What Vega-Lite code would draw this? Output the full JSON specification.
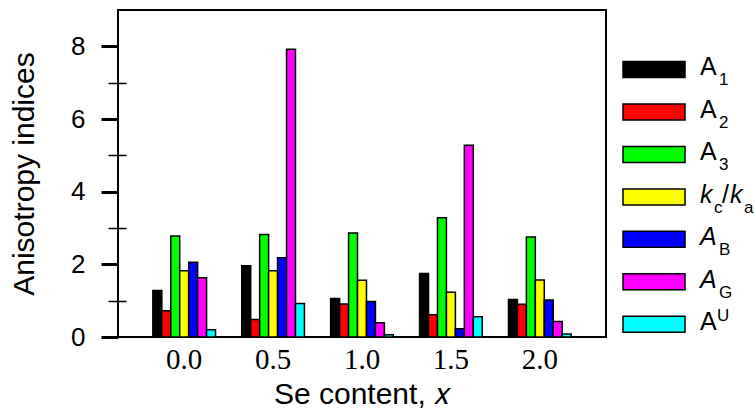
{
  "$schema": "https://vega.github.io/schema/vega-lite/v6.json",
  "padding": {"left": 8, "top": 9, "right": 0, "bottom": 0},
  "background": "white",
  "datasets": {
    "bars": [
      {"x": "0.0", "series": "A1", "value": 1.28},
      {"x": "0.0", "series": "A2", "value": 0.72},
      {"x": "0.0", "series": "A3", "value": 2.78},
      {"x": "0.0", "series": "kc/ka", "value": 1.82},
      {"x": "0.0", "series": "AB", "value": 2.06},
      {"x": "0.0", "series": "AG", "value": 1.63},
      {"x": "0.0", "series": "AU", "value": 0.2},
      {"x": "0.5", "series": "A1", "value": 1.96},
      {"x": "0.5", "series": "A2", "value": 0.48},
      {"x": "0.5", "series": "A3", "value": 2.82},
      {"x": "0.5", "series": "kc/ka", "value": 1.82},
      {"x": "0.5", "series": "AB", "value": 2.18},
      {"x": "0.5", "series": "AG", "value": 7.92},
      {"x": "0.5", "series": "AU", "value": 0.92},
      {"x": "1.0", "series": "A1", "value": 1.06},
      {"x": "1.0", "series": "A2", "value": 0.91},
      {"x": "1.0", "series": "A3", "value": 2.86},
      {"x": "1.0", "series": "kc/ka", "value": 1.56},
      {"x": "1.0", "series": "AB", "value": 0.98},
      {"x": "1.0", "series": "AG", "value": 0.39},
      {"x": "1.0", "series": "AU", "value": 0.06},
      {"x": "1.5", "series": "A1", "value": 1.75},
      {"x": "1.5", "series": "A2", "value": 0.61},
      {"x": "1.5", "series": "A3", "value": 3.28},
      {"x": "1.5", "series": "kc/ka", "value": 1.23},
      {"x": "1.5", "series": "AB", "value": 0.23},
      {"x": "1.5", "series": "AG", "value": 5.28},
      {"x": "1.5", "series": "AU", "value": 0.56},
      {"x": "2.0", "series": "A1", "value": 1.03},
      {"x": "2.0", "series": "A2", "value": 0.9},
      {"x": "2.0", "series": "A3", "value": 2.75},
      {"x": "2.0", "series": "kc/ka", "value": 1.57},
      {"x": "2.0", "series": "AB", "value": 1.02},
      {"x": "2.0", "series": "AG", "value": 0.43},
      {"x": "2.0", "series": "AU", "value": 0.08}
    ],
    "legend": [
      {"series": "A1", "main": "A", "it": false, "sub": "1", "sup": ""},
      {"series": "A2", "main": "A", "it": false, "sub": "2", "sup": ""},
      {"series": "A3", "main": "A", "it": false, "sub": "3", "sup": ""},
      {"series": "kc/ka", "main": "k", "it": true, "sub": "c", "sup": "", "mid": "/", "main2": "k", "sub2": "a"},
      {"series": "AB", "main": "A", "it": true, "sub": "B", "sup": ""},
      {"series": "AG", "main": "A", "it": true, "sub": "G", "sup": ""},
      {"series": "AU", "main": "A", "it": false, "sub": "", "sup": "U"}
    ]
  },
  "hconcat": [
    {
      "width": 488,
      "height": 327,
      "view": {"stroke": "black", "strokeWidth": 2},
      "data": {"name": "bars"},
      "layer": [
        {
          "mark": {"type": "bar", "stroke": "black", "strokeWidth": 1.5},
          "encoding": {
            "x": {
              "field": "x", "type": "nominal",
              "sort": ["0.0", "0.5", "1.0", "1.5", "2.0"],
              "scale": {"paddingInner": 0.295, "paddingOuter": 0.392},
              "axis": {
                "title": "Se content, 𝑥",
                "labelAngle": 0, "ticks": false, "domain": false,
                "labelFont": "Liberation Serif", "labelFontSize": 29, "labelColor": "black",
                "labelPadding": 8,
                "titleFont": "Liberation Sans", "titleFontSize": 30, "titleFontWeight": "normal",
                "titleColor": "black", "titlePadding": 5
              }
            },
            "xOffset": {
              "field": "series", "type": "nominal",
              "sort": ["A1", "A2", "A3", "kc/ka", "AB", "AG", "AU"],
              "scale": {"paddingInner": 0, "paddingOuter": 0}
            },
            "y": {
              "field": "value", "type": "quantitative",
              "scale": {"domain": [0, 9], "nice": false},
              "axis": {
                "values": [0, 2, 4, 6, 8], "format": "d",
                "tickSize": 17, "tickWidth": 3, "tickColor": "black",
                "domain": false, "grid": false,
                "labelFont": "Liberation Sans", "labelFontSize": 26, "labelColor": "black", "labelPadding": 16,
                "title": "Anisotropy indices",
                "titleFont": "Liberation Sans", "titleFontSize": 30, "titleFontWeight": "normal",
                "titleColor": "black", "titlePadding": 31
              }
            },
            "color": {
              "field": "series", "type": "nominal",
              "scale": {
                "domain": ["A1", "A2", "A3", "kc/ka", "AB", "AG", "AU"],
                "range": ["#000000", "#ff0000", "#00ff00", "#ffff00", "#0000ff", "#ff00ff", "#00ffff"]
              },
              "legend": null
            }
          }
        },
        {
          "mark": {"type": "rule", "opacity": 0},
          "encoding": {
            "y": {
              "datum": 0, "type": "quantitative",
              "axis": {
                "orient": "left", "values": [1, 3, 5, 7], "labels": false, "domain": false,
                "grid": false, "title": null, "tickSize": 18, "tickWidth": 1.5,
                "tickColor": "black", "offset": -8
              }
            }
          }
        }
      ],
      "resolve": {"axis": {"y": "independent"}}
    },
    {
      "width": 132,
      "height": 327,
      "view": {"stroke": null},
      "data": {"name": "legend"},
      "encoding": {
        "y": {
          "field": "series", "type": "nominal",
          "sort": ["A1", "A2", "A3", "kc/ka", "AB", "AG", "AU"],
          "scale": {"type": "point", "padding": 0.85, "align": 0.824},
          "axis": null
        }
      },
      "layer": [
        {
          "mark": {"type": "bar", "size": 16, "stroke": "black", "strokeWidth": 1.5},
          "encoding": {
            "x": {"datum": 0, "type": "quantitative", "scale": {"domain": [0, 132], "nice": false, "zero": false}, "axis": null},
            "x2": {"datum": 62},
            "color": {
              "field": "series", "type": "nominal",
              "scale": {
                "domain": ["A1", "A2", "A3", "kc/ka", "AB", "AG", "AU"],
                "range": ["#000000", "#ff0000", "#00ff00", "#ffff00", "#0000ff", "#ff00ff", "#00ffff"]
              },
              "legend": null
            }
          }
        },
        {
          "transform": [{"filter": "!datum.it"}],
          "mark": {"type": "text", "align": "left", "baseline": "alphabetic", "dy": 6, "font": "Liberation Sans", "fontSize": 25, "color": "black"},
          "encoding": {"x": {"datum": 77, "type": "quantitative"}, "text": {"field": "main"}}
        },
        {
          "transform": [{"filter": "datum.it"}],
          "mark": {"type": "text", "align": "left", "baseline": "alphabetic", "dy": 6, "font": "Liberation Sans", "fontSize": 25, "fontStyle": "italic", "color": "black"},
          "encoding": {"x": {"datum": 77, "type": "quantitative"}, "text": {"field": "main"}}
        },
        {
          "transform": [{"filter": "datum.main == 'A' && datum.sub != ''"}],
          "mark": {"type": "text", "align": "left", "baseline": "alphabetic", "dy": 16, "font": "Liberation Sans", "fontSize": 17, "color": "black"},
          "encoding": {"x": {"datum": 96, "type": "quantitative"}, "text": {"field": "sub"}}
        },
        {
          "transform": [{"filter": "datum.sup != ''"}],
          "mark": {"type": "text", "align": "left", "baseline": "alphabetic", "dy": -3, "font": "Liberation Sans", "fontSize": 17, "color": "black"},
          "encoding": {"x": {"datum": 94, "type": "quantitative"}, "text": {"field": "sup"}}
        },
        {
          "transform": [{"filter": "datum.main == 'k'"}],
          "mark": {"type": "text", "align": "left", "baseline": "alphabetic", "dy": 16, "font": "Liberation Sans", "fontSize": 17, "color": "black"},
          "encoding": {"x": {"datum": 91, "type": "quantitative"}, "text": {"field": "sub"}}
        },
        {
          "transform": [{"filter": "datum.main == 'k'"}],
          "mark": {"type": "text", "align": "left", "baseline": "alphabetic", "dy": 6, "font": "Liberation Sans", "fontSize": 25, "color": "black"},
          "encoding": {"x": {"datum": 99, "type": "quantitative"}, "text": {"field": "mid"}}
        },
        {
          "transform": [{"filter": "datum.main == 'k'"}],
          "mark": {"type": "text", "align": "left", "baseline": "alphabetic", "dy": 6, "font": "Liberation Sans", "fontSize": 25, "fontStyle": "italic", "color": "black"},
          "encoding": {"x": {"datum": 107, "type": "quantitative"}, "text": {"field": "main2"}}
        },
        {
          "transform": [{"filter": "datum.main == 'k'"}],
          "mark": {"type": "text", "align": "left", "baseline": "alphabetic", "dy": 16, "font": "Liberation Sans", "fontSize": 17, "color": "black"},
          "encoding": {"x": {"datum": 121, "type": "quantitative"}, "text": {"field": "sub2"}}
        }
      ]
    }
  ],
  "spacing": 17,
  "bounds": "flush"
}
